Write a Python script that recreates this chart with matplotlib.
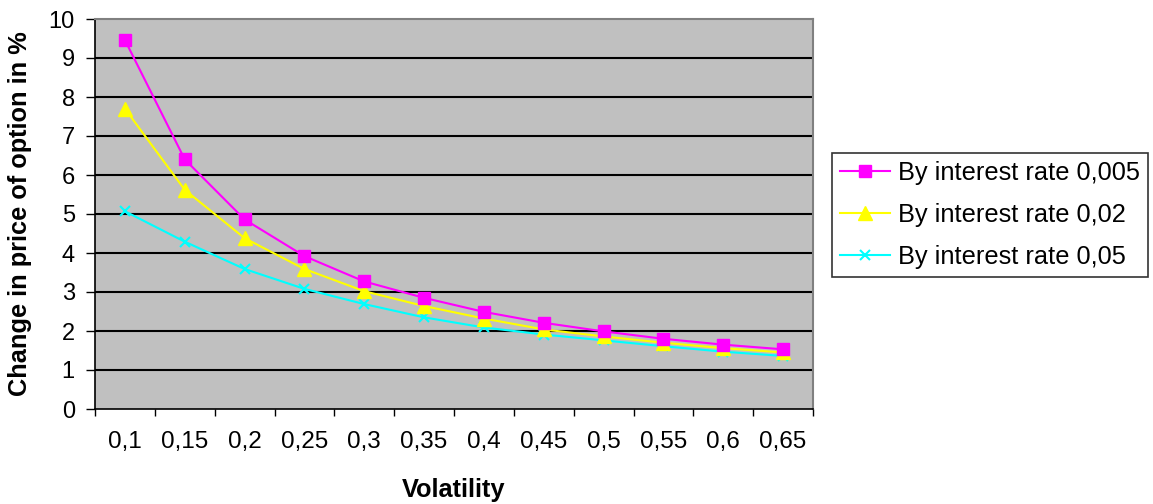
import matplotlib.pyplot as plt
import numpy as np

plt.rcParams['font.family'] = ['Liberation Sans', 'DejaVu Sans']

# Data
VOLATILITY = ['0,1', '0,15', '0,2', '0,25', '0,3', '0,35', '0,4', '0,45', '0,5', '0,55', '0,6', '0,65']
RATE_0005 = [9.46, 6.40, 4.86, 3.92, 3.27, 2.85, 2.49, 2.21, 1.99, 1.80, 1.65, 1.53]
RATE_002 = [7.70, 5.62, 4.38, 3.59, 3.02, 2.64, 2.32, 2.04, 1.86, 1.70, 1.56, 1.45]
RATE_005 = [5.07, 4.29, 3.59, 3.08, 2.69, 2.35, 2.09, 1.91, 1.76, 1.61, 1.47, 1.36]
LABELS = ['By interest rate 0,005', 'By interest rate 0,02', 'By interest rate 0,05']

fig = plt.figure(figsize=(11.53, 5.04), dpi=100)
ax = fig.add_axes([95/1153, 1 - 409/504, (813 - 95)/1153, (409 - 19)/504])
ax.set_facecolor('#c0c0c0')

x = np.arange(len(VOLATILITY))
ax.plot(x, RATE_0005, color='#ff00ff', lw=1.5, marker='s', ms=8, label=LABELS[0], zorder=5)
ax.plot(x, RATE_002, color='#ffff00', lw=1.5, marker='^', ms=9.5, label=LABELS[1], zorder=4)
ax.plot(x, RATE_005, color='#00ffff', lw=1.5, marker='x', ms=7, mew=1.5, label=LABELS[2], zorder=3)

ax.set_xlim(-0.5, len(VOLATILITY) - 0.5)
ax.set_ylim(0, 10)
ax.set_yticks(range(0, 11))
ax.tick_params(axis='y', labelsize=17, length=6.5, width=1, direction='out', pad=8)
for yv in range(1, 10):
    ax.axhline(yv, color='black', lw=1.5, zorder=1)

# category axis: tick marks at boundaries, labels at centers
ax.set_xticks(np.arange(-0.5, len(VOLATILITY), 1.0))
ax.set_xticklabels([])
ax.set_xticks(x, minor=True)
ax.set_xticklabels(VOLATILITY, minor=True)
ax.tick_params(axis='x', which='major', length=5, width=1, direction='out')
ax.tick_params(axis='x', which='minor', length=0, labelsize=17.5, pad=16)

for s in ['top', 'right']:
    ax.spines[s].set_color('#808080')
    ax.spines[s].set_linewidth(1.5)
for s in ['left', 'bottom']:
    ax.spines[s].set_color('black')
    ax.spines[s].set_linewidth(1.2)

ax.set_xlabel('Volatility', fontsize=18.3, fontweight='bold', va='center')
ax.xaxis.set_label_coords(0.5, (409 - 490) / 390)
ax.set_ylabel('Change in price of option in %', fontsize=18.3, fontweight='bold', va='center')
ax.yaxis.set_label_coords((20 - 95) / 718, (409 - 214) / 390)

leg = fig.legend(loc='upper left', bbox_to_anchor=(832/1153, 1 - 153/504), fontsize=18.3,
                 frameon=True, fancybox=False, edgecolor='black', handlelength=2.0,
                 borderpad=0.3, labelspacing=0.72, handletextpad=0.3, borderaxespad=0)
leg.get_frame().set_linewidth(1.2)

plt.savefig('out.png', dpi=100)
